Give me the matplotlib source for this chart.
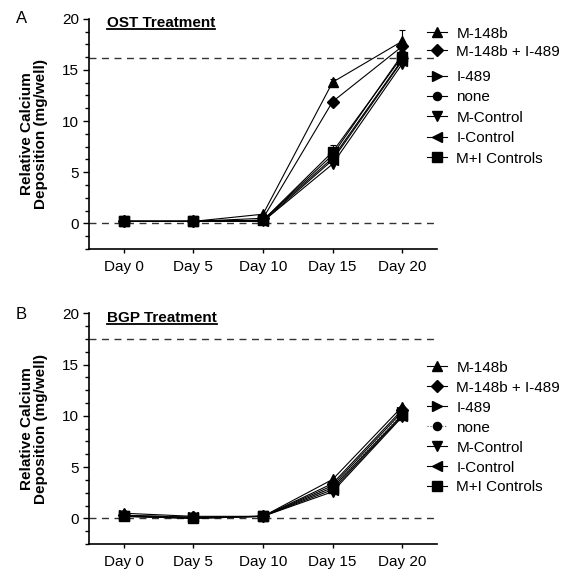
import matplotlib
matplotlib.use("Agg")
import matplotlib.pyplot as plt
from matplotlib.ticker import MultipleLocator
from matplotlib.lines import Line2D

plt.rcParams['font.family'] = ['Liberation Sans', 'DejaVu Sans']

days = ["Day 0", "Day 5", "Day 10", "Day 15", "Day 20"]
series_names = ["M-148b", "M-148b + I-489", "I-489", "none", "M-Control", "I-Control", "M+I Controls"]
markers = ["^", "D", ">", "o", "v", "<", "s"]

# OST treatment (panel A)
ost_m148b = [0.2, 0.2, 0.9, 13.8, 17.8]
ost_m148b_i489 = [0.2, 0.2, 0.5, 11.9, 17.3]
ost_i489 = [0.2, 0.2, 0.3, 6.4, 16.0]
ost_none = [0.2, 0.2, 0.3, 6.7, 16.5]
ost_mcontrol = [0.2, 0.2, 0.2, 5.8, 15.6]
ost_icontrol = [0.2, 0.2, 0.2, 6.2, 15.9]
ost_micontrols = [0.2, 0.2, 0.3, 7.0, 16.3]
ost_err_m148b = [0, 0, 0, 0.3, 1.1]
ost_err_micontrols = [0, 0, 0, 0.7, 0.4]
ost_ref_line = 16.2

# BGP treatment (panel B)
bgp_m148b = [0.5, 0.2, 0.2, 3.8, 10.9]
bgp_m148b_i489 = [0.3, 0.1, 0.2, 3.4, 10.6]
bgp_i489 = [0.3, 0.1, 0.2, 3.2, 10.4]
bgp_none = [0.2, 0.1, 0.2, 3.0, 10.2]
bgp_mcontrol = [0.2, 0.0, 0.2, 2.6, 9.9]
bgp_icontrol = [0.2, 0.1, 0.2, 2.8, 10.0]
bgp_micontrols = [0.2, 0.0, 0.2, 3.0, 10.1]
bgp_ref_line = 17.5

ost = [ost_m148b, ost_m148b_i489, ost_i489, ost_none, ost_mcontrol, ost_icontrol, ost_micontrols]
ost_err = [ost_err_m148b, None, None, None, None, None, ost_err_micontrols]
bgp = [bgp_m148b, bgp_m148b_i489, bgp_i489, bgp_none, bgp_mcontrol, bgp_icontrol, bgp_micontrols]

fig = plt.figure(figsize=(5.68, 5.69), dpi=100)
axA = fig.add_axes([0.1567, 0.5624, 0.6127, 0.4047])
axB = fig.add_axes([0.1567, 0.0439, 0.6127, 0.4055])

x = list(range(len(days)))


def style_axis(ax, title, ref):
    ax.set_xlim(-0.5, 4.5)
    ax.set_ylim(-2.5, 20)
    ax.spines['top'].set_visible(False)
    ax.spines['right'].set_visible(False)
    ax.spines['left'].set_bounds(-2.5, 20)
    ax.spines['left'].set_linewidth(1.2)
    ax.spines['bottom'].set_linewidth(1.2)
    ax.set_xticks(x)
    ax.set_xticklabels(days, fontsize=11)
    ax.set_yticks([0, 5, 10, 15, 20])
    ax.yaxis.set_minor_locator(MultipleLocator(1.25))
    ax.tick_params(axis='y', which='major', direction='out', length=4, width=1, labelsize=11, pad=3)
    ax.tick_params(axis='y', which='minor', direction='out', length=3, width=1)
    ax.tick_params(axis='x', which='major', direction='out', length=3, width=1, pad=5)
    ax.axhline(0, color='#333333', lw=1, ls=(0, (5, 4)), zorder=1)
    ax.axhline(ref, color='#333333', lw=1, ls=(0, (5, 4)), zorder=1)
    ax.set_ylabel("Relative Calcium\nDeposition (mg/well)", fontsize=11, fontweight='bold', labelpad=10,
                  linespacing=1.0)
    t = ax.text(0.052, 1.012, title, transform=ax.transAxes, fontsize=11, fontweight='bold',
                ha='left', va='top')
    return t


tA = style_axis(axA, "OST Treatment", ost_ref_line)
tB = style_axis(axB, "BGP Treatment", bgp_ref_line)

handlesA = []
for i, (name, m, ys) in enumerate(zip(series_names, markers, ost)):
    ms = 7.5 if m not in ("D", "o") else 6.5
    if ost_err[i] is not None:
        axA.errorbar(x, ys, yerr=[[0]*5, ost_err[i]], fmt='none', ecolor='black', elinewidth=0.8,
                     capsize=2.5, capthick=0.8, zorder=2)
    h, = axA.plot(x, ys, color='black', lw=0.8, marker=m, ms=ms, mfc='black', mec='black', label=name, zorder=3)
    handlesA.append(h)

handlesB = []
for name, m, ys in zip(series_names, markers, bgp):
    ms = 7.5 if m not in ("D", "o") else 6.5
    if name == "none":
        h, = axB.plot(x, ys, color='#555555', lw=0.8, ls=':', marker=m, ms=ms, mfc='black', mec='black',
                      label=name, zorder=3)
    else:
        h, = axB.plot(x, ys, color='black', lw=0.8, marker=m, ms=ms, mfc='black', mec='black', label=name, zorder=3)
    handlesB.append(h)

leg_kw = dict(frameon=False, fontsize=11, handlelength=1.35, handletextpad=0.6, borderpad=0,
              borderaxespad=0, loc='upper left', markerscale=0.9)
legA1 = fig.legend(handles=handlesA[:2], bbox_to_anchor=(0.751, 0.953), labelspacing=0.25, **leg_kw)
legA2 = fig.legend(handles=handlesA[2:], bbox_to_anchor=(0.751, 0.877), labelspacing=0.42, **leg_kw)
legB = fig.legend(handles=handlesB, bbox_to_anchor=(0.751, 0.366), labelspacing=0.39, **leg_kw)

fig.text(0.028, 0.967, "A", fontsize=12, ha='left', va='center')
fig.text(0.028, 0.448, "B", fontsize=12, ha='left', va='center')

# underline titles
fig.canvas.draw()
r = fig.canvas.get_renderer()
for t in (tA, tB):
    bb = t.get_window_extent(renderer=r)
    inv = fig.transFigure.inverted()
    (x0, y0), (x1, y1) = inv.transform([(bb.x0, bb.y0), (bb.x1, bb.y1)])
    fig.add_artist(Line2D([x0, x1], [y0 + 0.001, y0 + 0.001], color='black', lw=1.3, transform=fig.transFigure))

fig.savefig("out.png", dpi=100)
